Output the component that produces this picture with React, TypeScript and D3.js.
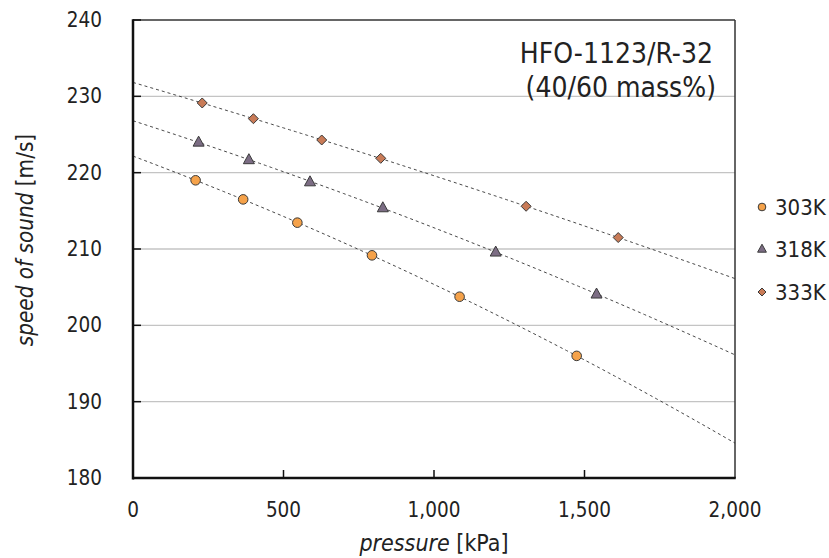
import React from "react";
import * as d3 from "d3";

const seriesNames = ["303K", "318K", "333K"];
const pressure303 = [208, 366, 546, 794, 1085, 1474];
const speed303 = [219.0, 216.5, 213.45, 209.17, 203.75, 196.0];
const pressure318 = [218, 385, 588, 830, 1205, 1540];
const speed318 = [224.0, 221.7, 218.8, 215.4, 209.6, 204.1];
const pressure333 = [230, 400, 627, 823, 1306, 1612];
const speed333 = [229.13, 227.07, 224.28, 221.88, 215.6, 211.5];
const xTicks = [0, 500, 1000, 1500, 2000];
const yTicks = [180, 190, 200, 210, 220, 230, 240];

const W = 829, H = 558;
const M = { left: 133, right: 735, top: 20, bottom: 478 };
const FONT = "'DejaVu Sans Condensed', 'DejaVu Sans', sans-serif";

function quadFit(xs: number[], ys: number[]) {
  // least squares y = a + b x + c x^2
  const n = xs.length;
  let s0 = n, s1 = 0, s2 = 0, s3 = 0, s4 = 0, t0 = 0, t1 = 0, t2 = 0;
  for (let i = 0; i < n; i++) {
    const x = xs[i], y = ys[i];
    s1 += x; s2 += x * x; s3 += x * x * x; s4 += x * x * x * x;
    t0 += y; t1 += x * y; t2 += x * x * y;
  }
  const A = [[s0, s1, s2, t0], [s1, s2, s3, t1], [s2, s3, s4, t2]];
  for (let i = 0; i < 3; i++) {
    for (let k = i + 1; k < 3; k++) {
      const f = A[k][i] / A[i][i];
      for (let j = i; j < 4; j++) A[k][j] -= f * A[i][j];
    }
  }
  const r = [0, 0, 0];
  for (let i = 2; i >= 0; i--) {
    let s = A[i][3];
    for (let j = i + 1; j < 3; j++) s -= A[i][j] * r[j];
    r[i] = s / A[i][i];
  }
  return (x: number) => r[0] + r[1] * x + r[2] * x * x;
}

const series = [
  { name: seriesNames[0], xs: pressure303, ys: speed303, shape: "circle", fill: "#F5A24A" },
  { name: seriesNames[1], xs: pressure318, ys: speed318, shape: "triangle", fill: "#7C6D84" },
  { name: seriesNames[2], xs: pressure333, ys: speed333, shape: "diamond", fill: "#C97B57" },
];

function Marker({ shape, fill, x, y, s = 1 }: any) {
  const stroke = "#3a3a3a";
  if (shape === "circle") return <circle cx={x} cy={y} r={4.8 * s} fill={fill} stroke={stroke} strokeWidth={1} />;
  if (shape === "triangle") {
    const h = 10 * s, w = 11 * s;
    return <path d={`M${x},${y - h * 0.6}L${x + w / 2},${y + h * 0.4}L${x - w / 2},${y + h * 0.4}Z`} fill={fill} stroke={stroke} strokeWidth={1} />;
  }
  const r = 5 * s;
  return <path d={`M${x},${y - r}L${x + r},${y}L${x},${y + r}L${x - r},${y}Z`} fill={fill} stroke={stroke} strokeWidth={1} />;
}

export default function App() {
  const x = d3.scaleLinear().domain([0, 2000]).range([M.left, M.right]);
  const y = d3.scaleLinear().domain([180, 240]).range([M.bottom, M.top]);
  const fmt = d3.format(",");
  const line = d3.line<number>().x((d) => x(d[0])).y((d) => y(d[1]));
  const samples = d3.range(0, 2001, 20);

  return (
    <svg width={W} height={H} style={{ position: "absolute", left: 0, top: 0, background: "#fff" }} fontFamily={FONT}>
      {/* gridlines */}
      {yTicks.filter((t) => t > 180 && t < 240).map((t) => (
        <line key={t} x1={M.left} x2={M.right} y1={y(t)} y2={y(t)} stroke="#C4C4C4" strokeWidth={1.3} />
      ))}
      {/* frame */}
      <line x1={M.left} x2={M.right} y1={M.top} y2={M.top} stroke="#333" strokeWidth={1.5} />
      <line x1={M.right} x2={M.right} y1={M.top} y2={M.bottom} stroke="#333" strokeWidth={1.5} />
      {/* trend lines */}
      {series.map((s) => {
        const f = quadFit(s.xs, s.ys);
        const pts = samples.map((p) => [p, f(p)]) as any;
        return <path key={s.name} d={line(pts) || ""} fill="none" stroke="#333" strokeWidth={0.9} strokeDasharray="3,3" />;
      })}
      {/* axes */}
      <line x1={M.left} x2={M.left} y1={M.top - 0.75} y2={M.bottom + 1.5} stroke="#111" strokeWidth={2.5} />
      <line x1={M.left} x2={M.right + 0.75} y1={M.bottom} y2={M.bottom} stroke="#111" strokeWidth={2.5} />
      {yTicks.map((t) => (
        <g key={t}>
          <line x1={M.left} x2={M.left + 8} y1={y(t)} y2={y(t)} stroke="#111" strokeWidth={1.5} />
          <text x={102} y={y(t)} textAnchor="end" dominantBaseline="central" fontSize={20.5} fill="#222">{t}</text>
        </g>
      ))}
      {xTicks.map((t) => (
        <g key={t}>
          {t > 0 && t < 2000 && <line x1={x(t)} x2={x(t)} y1={M.bottom} y2={M.bottom - 8} stroke="#111" strokeWidth={1.5} />}
          <text x={x(t)} y={517} textAnchor="middle" fontSize={20.5} fill="#222">{fmt(t)}</text>
        </g>
      ))}
      {/* points */}
      {series.map((s) => (
        <g key={s.name}>
          {s.xs.map((p, i) => (
            <Marker key={i} shape={s.shape} fill={s.fill} x={x(p)} y={y(s.ys[i])} />
          ))}
        </g>
      ))}
      {/* axis titles */}
      <text x={(M.left + M.right) / 2} y={551} textAnchor="middle" fontSize={23} fill="#222">
        <tspan fontStyle="italic">pressure</tspan> [kPa]
      </text>
      <text transform={`translate(33,240) rotate(-90)`} textAnchor="middle" fontSize={22.3} fill="#222">
        <tspan fontStyle="italic">speed of sound</tspan> [m/s]
      </text>
      {/* annotation */}
      <text x={713} y={63} textAnchor="end" fontSize={28} fill="#222">HFO-1123/R-32</text>
      <text x={716} y={97} textAnchor="end" fontSize={28} fill="#222">(40/60 mass%)</text>
      {/* legend */}
      {series.map((s, i) => {
        const ly = [207, 249, 292][i];
        return (
          <g key={s.name}>
            <Marker shape={s.shape} fill={s.fill} x={762} y={ly} s={0.8} />
            <text x={775} y={ly} dominantBaseline="central" fontSize={22} fill="#222">{s.name}</text>
          </g>
        );
      })}
    </svg>
  );
}
